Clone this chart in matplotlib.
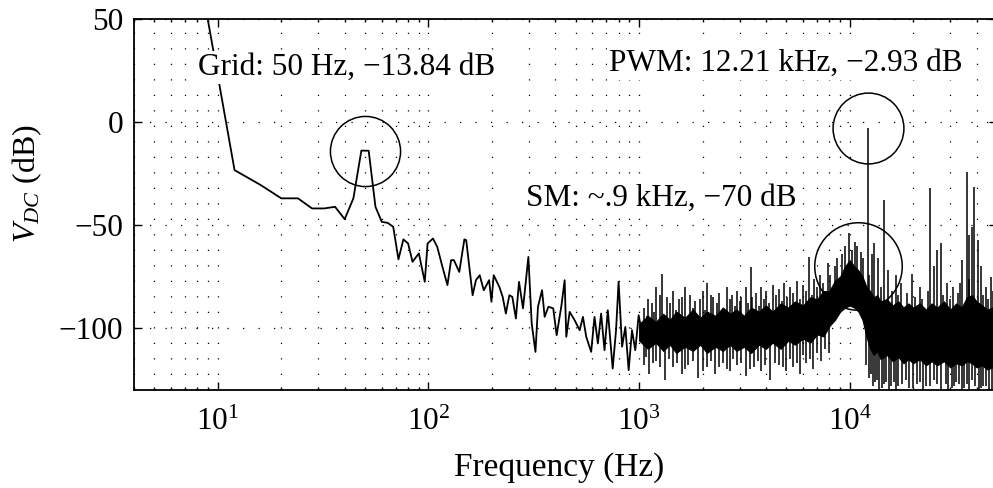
import numpy as np
import matplotlib.pyplot as plt

plt.rcParams['font.family'] = 'Liberation Serif'
plt.rcParams['mathtext.fontset'] = 'custom'
plt.rcParams['mathtext.rm'] = 'Liberation Serif'
plt.rcParams['mathtext.it'] = 'Liberation Serif:italic'

# low frequency part of the spectrum, read point by point (Hz, dB)
freq_lo = [4, 8, 12, 16, 20, 24, 28, 32, 36, 40, 44, 48, 52, 56, 60, 64, 68,
           72, 76, 80, 84, 90, 96, 99, 105, 110, 117, 123, 128, 132, 140, 148,
           151, 162, 168, 175, 183, 194, 199, 204, 217, 225, 233, 242, 250,
           260, 269, 281, 298, 309, 322, 331, 346, 356, 371, 391, 406, 428,
           443, 451, 468, 494, 522, 541, 561, 592, 614, 637, 660, 685, 710,
           749, 777, 799, 830, 860, 892, 925, 959, 995, 1052, 1091]
db_lo = [110, 78, -23.3, -30.6, -37.0, -37.0, -41.9, -41.9, -41.1, -47.1,
         -37.0, -13.84, -13.9, -41.1, -48.4, -48.9, -50.8, -66.6, -56.9,
         -58.9, -67.8, -63.7, -77.5, -58.9, -56.5, -60.5, -71.0, -79.1, -67.0,
         -67.0, -72.7, -56.9, -57.3, -84.0, -76.7, -74.3, -81.6, -76.7, -87.2,
         -74.3, -80, -84.8, -92.9, -84.0, -84.8, -95.3, -77.5, -90.4, -65.4,
         -97.7, -111.5, -89.6, -81.6, -94.5, -89.6, -90.4, -103.4, -88.8,
         -76.7, -104.2, -92.1, -96.1, -101, -94.5, -104.2, -111.5, -94.5,
         -107.4, -92.9, -110.7, -91.3, -119.6, -101, -77.5, -109, -99.4,
         -120.4, -101, -110.7, -93.7, -107.4, -94.5]

# dense noise band above 1 kHz: ragged upper and lower edge of the black core
band_f = [1000, 1100, 1200, 1300, 1400, 1500, 1650, 1800, 1950, 2100, 2300,
          2500, 2700, 2900, 3150, 3400, 3700, 4000, 4300, 4700, 5100, 5500,
          6000, 6500, 7000, 7500, 8000, 8500, 9000, 9500, 10000, 10500, 11000,
          11500, 12000, 12500, 13000, 13500, 14000, 15000, 16000, 17000,
          18000, 19000, 20000, 21500, 23000, 24500, 26000, 28000, 30000,
          32000, 34000, 36000, 38000, 40000, 42500, 45000, 47500, 50000]
band_hi = [-98, -94, -97, -93, -96, -92, -95, -91, -95, -92, -94, -90, -93,
           -91, -94, -90, -92, -89, -92, -88, -90, -87, -89, -85, -86, -82,
           -82, -77, -75, -70, -67, -70, -72, -75, -80, -82, -85, -84, -87,
           -86, -89, -87, -90, -88, -90, -88, -91, -88, -90, -87, -91, -88,
           -90, -85, -84, -87, -89, -91, -90, -92]
band_lo = [-106, -110, -107, -111, -108, -112, -109, -111, -108, -112, -109,
           -111, -108, -111, -109, -112, -108, -110, -107, -110, -106, -108,
           -105, -107, -103, -104, -99, -96, -92, -90, -89, -90, -92, -96,
           -104, -110, -113, -111, -115, -113, -116, -114, -117, -115, -117,
           -115, -118, -116, -118, -116, -119, -117, -118, -116, -117, -119,
           -118, -120, -119, -120]

# spikes sticking up out of the band (Hz, tip dB)
up_f = [1150, 1200, 1290, 1350, 1450, 1550, 1650, 1750, 1850, 2000, 2100,
        2250, 2400, 2600, 2750, 2900, 3060, 3200, 3380, 3600, 3800, 4000,
        4300, 4600, 4900, 5200, 5600, 6000, 6440, 6800, 7200, 7900, 8500,
        9200, 9900, 10300, 10800, 11300, 12210, 12700, 13100, 13600, 14600,
        15200, 16500, 17500, 19800, 21500, 24100, 25000, 26000, 27000, 29000,
        31000, 34000, 35900, 37000, 38000, 39000, 40600, 42000, 44200, 47000,
        1050, 1100, 1180, 1250, 1400, 1500, 1600, 1800, 1950, 2050, 2200,
        2350, 2500, 2700, 2850, 3000, 3300, 3450, 3700, 3900, 4150, 4450,
        4750, 5050, 5400, 5800, 6200, 6600, 7000, 7500, 8100, 8700, 9500,
        10600, 11600, 12400, 14000, 15800, 17000, 18800, 20500, 22000, 23500,
        27800, 30000, 32500, 33500, 36800, 43000, 45500, 48000]
up_db = [-88, -80, -73.5, -85, -82, -86, -80, -84, -87, -82, -78, -85, -83,
         -80, -84, -82, -84.8, -80, -70.2, -83, -80, -82, -79, -81, -78, -80,
         -77, -79, -65.4, -76, -74, -68.5, -70, -64, -54, -62, -60, -63, -2.93,
         -64, -58.9, -66, -37.9, -71.8, -74, -78, -73.5, -80, -32.2, -70,
         -62.1, -58.9, -78, -80, -67, -24.1, -55, -50.8, -31.4, -57.3, -70,
         -80, -75,
         -90, -86, -92, -84, -88, -91, -85, -90, -86, -91, -84, -88, -90, -86,
         -89, -87, -88, -85, -89, -86, -88, -84, -87, -85, -83, -86, -82, -84,
         -80, -78, -74, -66, -60, -58, -66, -74, -80, -82, -84, -83, -85, -86,
         -82, -84, -86, -83, -78, -76, -84, -86, -82]
# spikes reaching down out of the band (Hz, tip dB)
dn_f = [1050, 1120, 1200, 1330, 1450, 1600, 1700, 1900, 2100, 2300, 2500,
        2700, 2900, 3200, 3500, 3800, 4200, 4600, 5000, 5400, 5800, 6200,
        6700, 7300, 8000, 12600, 13200, 13800, 14500, 15300, 16200, 17000,
        18500, 20000, 21500, 23000, 25000, 27000, 28500, 30500, 32000, 34000,
        36000, 38000, 41000, 43000, 46000, 49000,
        1080, 1160, 1260, 1380, 1520, 1650, 1800, 2000, 2200, 2400, 2600,
        2800, 3050, 3350, 3650, 3950, 4400, 4800, 5200, 5600, 6000, 6450,
        7000, 7600, 11900, 12300, 12900, 13500, 14200, 14900, 15700, 16600,
        17700, 19200, 20800, 22200, 24000, 26000, 29200, 31200, 33000, 35000,
        37000, 39500, 42000, 44500, 47500]
dn_db = [-118, -122, -116, -125, -119, -122, -118, -124, -119, -122, -117,
         -121, -118, -123, -119, -121, -125, -118, -121, -119, -122, -117,
         -120, -116, -112, -122, -126, -130, -127, -130, -126, -128, -125,
         -129, -126, -128, -125, -130, -127, -129, -126, -130, -127, -125,
         -130, -128, -130, -127,
         -114, -117, -119, -115, -117, -120, -116, -121, -116, -119, -120,
         -115, -117, -120, -116, -118, -117, -119, -115, -117, -113, -115,
         -112, -110, -118, -124, -128, -125, -129, -126, -128, -130, -127,
         -129, -127, -130, -128, -127, -130, -128, -127, -129, -130, -128,
         -129, -128, -130]

# annotations: (text, x Hz, baseline dB)
notes = [("Grid: 50 Hz, \u221213.84 dB", 8.04, 22.8),
         ("PWM: 12.21 kHz, \u22122.93 dB", 721, 24.8),
         ("SM: ~.9 kHz, \u221270 dB", 291, -40.8)]
# circles: (centre Hz, centre dB, diameter pt)
rings = [(50, -13.84, 50.5), (12210, -2.93, 51), (11000, -70, 63)]

fig = plt.figure(figsize=(9.93, 4.88), dpi=100)
ax = fig.add_axes([0.135, 0.2008, 0.869, 0.7602])
ax.set_xscale('log')

dots = (0, (1, 11.4))
ax.grid(True, which='both', axis='x', color='k', lw=0.9, ls=dots)
ax.grid(True, which='major', axis='y', color='k', lw=0.9, ls=dots)
ax.set_axisbelow(True)

# the spectrum
ax.plot(freq_lo, db_lo, color='k', lw=1.3, zorder=3)
ax.fill_between(band_f, band_lo, band_hi, color='k', lw=0.8, zorder=3)
band_mid = (np.array(band_hi) + np.array(band_lo)) / 2
base_up = np.interp(np.log10(up_f), np.log10(band_f), band_mid)
base_dn = np.interp(np.log10(dn_f), np.log10(band_f), band_mid)
ax.vlines(up_f, base_up, up_db, color='k', lw=1.1, zorder=3)
ax.vlines(dn_f, dn_db, base_dn, color='k', lw=1.1, zorder=3)

for fc, dc, d in rings:
    ax.plot(fc, dc, 'o', ms=d, mfc='none', mec='k', mew=1.1, zorder=4)

for txt, xf, yd in notes:
    ax.text(xf, yd, txt, fontsize=22.5, ha='left', va='baseline', zorder=5,
            bbox=dict(fc='white', ec='none', pad=1.5))

ax.set_xlim(4, 50000)
ax.set_ylim(-130, 50)
ax.set_yticks([-100, -50, 0, 50])
ax.tick_params(which='both', direction='in', top=True, right=True,
               labelsize=22.5, width=1)
ax.tick_params(which='major', length=5.8)
ax.tick_params(which='minor', length=2.5)
ax.tick_params(axis='y', pad=8)
ax.tick_params(axis='x', pad=13)
for s in ax.spines.values():
    s.set_linewidth(1.3)

ax.set_xlabel('Frequency (Hz)', fontsize=24)
ax.set_ylabel('$V_{DC}$ (dB)', fontsize=23)
ax.yaxis.set_label_coords(-0.104, 0.555)
ax.xaxis.set_label_coords(0.493, -0.167)

fig.savefig('out.png', dpi=100)
